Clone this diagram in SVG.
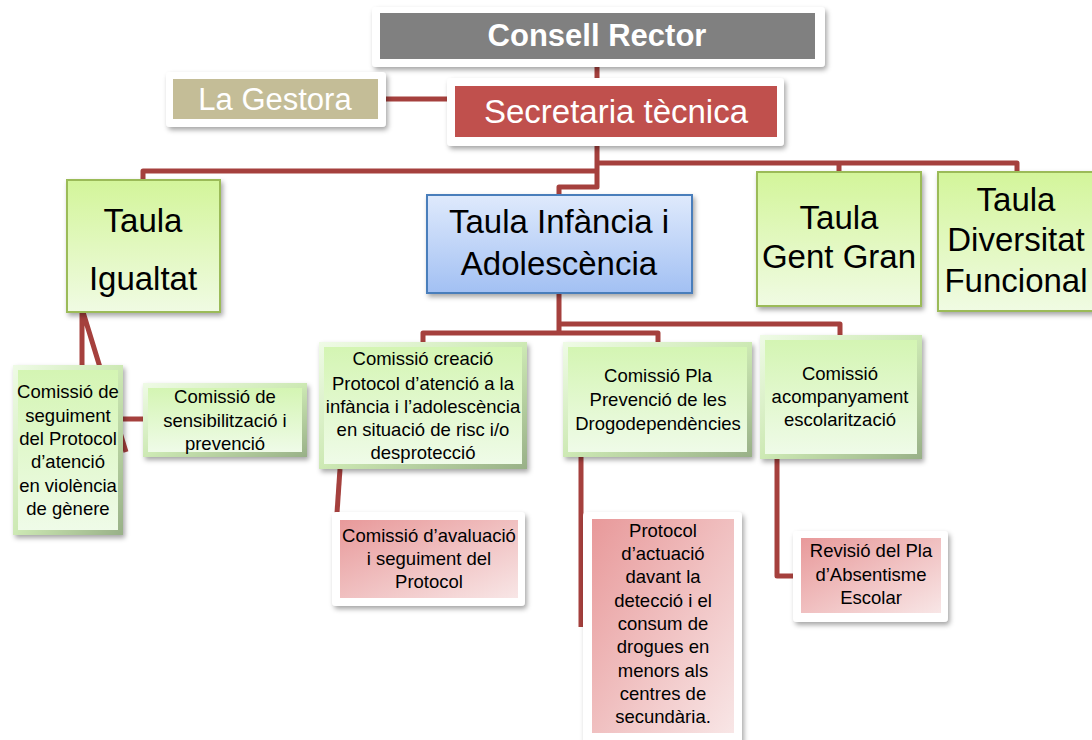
<svg xmlns="http://www.w3.org/2000/svg" width="1092" height="740" viewBox="0 0 1092 740">
<defs>
<filter id="sh" x="-20%" y="-20%" width="140%" height="140%"><feDropShadow dx="2" dy="3" stdDeviation="2.5" flood-color="#000" flood-opacity="0.35"/></filter>
<linearGradient id="tg" x1="0" y1="0" x2="0" y2="1"><stop offset="0" stop-color="#d3f59a"/><stop offset="1" stop-color="#f0fbe3"/></linearGradient>
<linearGradient id="bg" x1="0" y1="0" x2="0" y2="1"><stop offset="0" stop-color="#dfeafc"/><stop offset="1" stop-color="#a2c0f3"/></linearGradient>
<linearGradient id="bev" x1="0" y1="0" x2="1" y2="1"><stop offset="0" stop-color="#effbe6"/><stop offset="0.5" stop-color="#cde9b4"/><stop offset="1" stop-color="#98b087"/></linearGradient>
<linearGradient id="cg" x1="0" y1="0" x2="0" y2="1"><stop offset="0" stop-color="#d4f5b3"/><stop offset="1" stop-color="#effbe8"/></linearGradient>
<linearGradient id="pg" x1="0" y1="0" x2="1" y2="1"><stop offset="0" stop-color="#e8999a"/><stop offset="1" stop-color="#f8e6e6"/></linearGradient>
</defs>
<style>
.c{fill:none;stroke:#a5403d;stroke-width:5;stroke-linejoin:round}
.fr{fill:#fff;filter:url(#sh)}
.tl{fill:url(#tg);stroke:#9bbb59;stroke-width:2;filter:url(#sh)}
.bl{fill:url(#bg);stroke:#4a7ebb;stroke-width:2;filter:url(#sh)}
.bv{fill:url(#bev);filter:url(#sh)}
.ci{fill:url(#cg)}
.pk{fill:url(#pg)}
text{font-family:"Liberation Sans",Arial,sans-serif;text-anchor:middle;fill:#000}
.w{fill:#fff}
.big{font-size:33px}
.sm{font-size:18.5px}
</style>
<g id="connectors">
<path class="c" d="M597,66 V80"/>
<path class="c" d="M386,99 H447"/>
<path class="c" d="M597,146 V187 H559 V195"/>
<path class="c" d="M597,171 H143 V181"/>
<path class="c" d="M597,163 H1017 V173 M839,163 V173"/>
<path class="c" d="M559,293 V333 M423,343 V333 H658 V343 M559,324 H840 V336"/>
<path class="c" d="M82,312 V366 M83,312 L126,452"/>
<path class="c" d="M123,419 H143"/>
<path class="c" d="M340,469 L337,513"/>
<path class="c" d="M581,457 V627"/>
<path class="c" d="M777,459 V576 H795"/>
</g>
<g id="consell-rector">
<rect class="fr" x="372" y="7" width="453" height="60" rx="4"/>
<rect x="380" y="13" width="435" height="46" fill="#808080"/>
<text class="w" x="597" y="46" font-size="31" font-weight="bold">Consell Rector</text>
</g>
<g id="la-gestora">
<rect class="fr" x="166" y="72" width="220" height="55" rx="4"/>
<rect x="173" y="79" width="205" height="40" fill="#c4bd97"/>
<text class="w" x="275" y="110" font-size="31">La Gestora</text>
</g>
<g id="secretaria">
<rect class="fr" x="447" y="78" width="337" height="68" rx="4"/>
<rect x="455" y="86" width="322" height="51" fill="#c0504d"/>
<text class="w big" x="616" y="123">Secretaria tècnica</text>
</g>
<g id="taula-igualtat">
<rect class="tl" x="67" y="180" width="153" height="132"/>
<text class="big" x="143" y="232">Taula</text>
<text class="big" x="143" y="290">Igualtat</text>
</g>
<g id="taula-infancia">
<rect class="bl" x="427" y="195" width="265" height="98"/>
<text class="big" x="559" y="233">Taula Infància i</text>
<text class="big" x="559" y="275">Adolescència</text>
</g>
<g id="taula-gent-gran">
<rect class="tl" x="757" y="172" width="164" height="134"/>
<text class="big" x="839" y="229">Taula</text>
<text class="big" x="839" y="268">Gent Gran</text>
</g>
<g id="taula-diversitat">
<rect class="tl" x="938" y="172" width="162" height="139"/>
<text class="big" x="1016" y="211">Taula</text>
<text class="big" x="1016" y="251">Diversitat</text>
<text class="big" x="1016" y="292">Funcional</text>
</g>
<g id="comissio-seguiment">
<rect class="bv" x="13" y="365" width="110" height="170"/>
<rect class="ci" x="18" y="370" width="100" height="160"/>
<text class="sm" x="68" y="398">Comissió de</text>
<text class="sm" x="68" y="422">seguiment</text>
<text class="sm" x="68" y="445">del Protocol</text>
<text class="sm" x="68" y="468">d’atenció</text>
<text class="sm" x="68" y="492">en violència</text>
<text class="sm" x="68" y="515">de gènere</text>
</g>
<g id="comissio-sensibilitzacio">
<rect class="bv" x="143" y="383" width="164" height="74"/>
<rect class="ci" x="148" y="388" width="154" height="64"/>
<text class="sm" x="225" y="403">Comissió de</text>
<text class="sm" x="225" y="427">sensibilització i</text>
<text class="sm" x="225" y="450">prevenció</text>
</g>
<g id="comissio-creacio">
<rect class="bv" x="319" y="342" width="208" height="127"/>
<rect class="ci" x="324" y="347" width="198" height="117"/>
<text class="sm" x="423" y="365">Comissió creació</text>
<text class="sm" x="423" y="390">Protocol d’atenció a la</text>
<text class="sm" x="423" y="413">infància i l’adolescència</text>
<text class="sm" x="423" y="436">en situació de risc i/o</text>
<text class="sm" x="423" y="459">desprotecció</text>
</g>
<g id="comissio-pla">
<rect class="bv" x="563" y="342" width="189" height="115"/>
<rect class="ci" x="568" y="347" width="179" height="105"/>
<text class="sm" x="658" y="382">Comissió Pla</text>
<text class="sm" x="658" y="406">Prevenció de les</text>
<text class="sm" x="658" y="430">Drogodependències</text>
</g>
<g id="comissio-acompanyament">
<rect class="bv" x="760" y="335" width="162" height="124"/>
<rect class="ci" x="765" y="340" width="152" height="114"/>
<text class="sm" x="840" y="380">Comissió</text>
<text class="sm" x="840" y="403">acompanyament</text>
<text class="sm" x="840" y="426">escolarització</text>
</g>
<g id="comissio-avaluacio">
<rect class="fr" x="332" y="512" width="193" height="94" rx="4"/>
<rect class="pk" x="340" y="520" width="178" height="78"/>
<text class="sm" x="429" y="542">Comissió d’avaluació</text>
<text class="sm" x="429" y="565">i seguiment del</text>
<text class="sm" x="429" y="588">Protocol</text>
</g>
<g id="protocol-actuacio">
<rect class="fr" x="583" y="512" width="159" height="240" rx="4"/>
<rect class="pk" x="592" y="519" width="142" height="214"/>
<text class="sm" x="663" y="537">Protocol</text>
<text class="sm" x="663" y="560">d’actuació</text>
<text class="sm" x="663" y="583">davant la</text>
<text class="sm" x="663" y="607">detecció i el</text>
<text class="sm" x="663" y="630">consum de</text>
<text class="sm" x="663" y="653">drogues en</text>
<text class="sm" x="663" y="677">menors als</text>
<text class="sm" x="663" y="700">centres de</text>
<text class="sm" x="663" y="723">secundària.</text>
</g>
<g id="revisio-pla">
<rect class="fr" x="793" y="531" width="155" height="91" rx="4"/>
<rect class="pk" x="801" y="538" width="140" height="75"/>
<text class="sm" x="871" y="557">Revisió del Pla</text>
<text class="sm" x="871" y="581">d’Absentisme</text>
<text class="sm" x="871" y="604">Escolar</text>
</g>
</svg>
